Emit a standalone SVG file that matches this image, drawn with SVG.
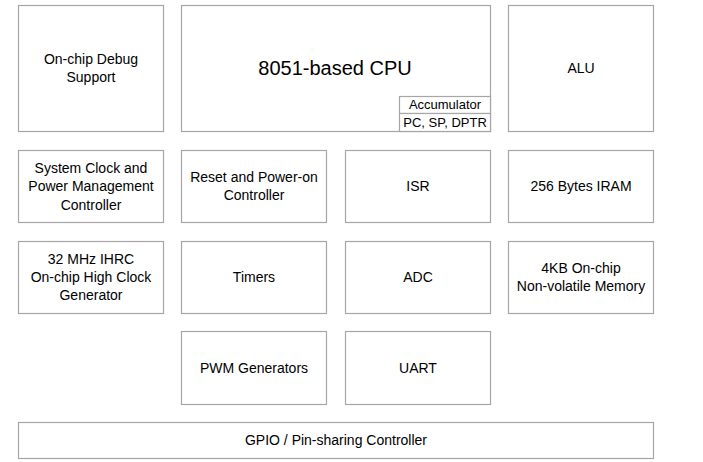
<svg xmlns="http://www.w3.org/2000/svg" width="703" height="462" viewBox="0 0 703 462">
<style>
.b{fill:#fff;stroke:#a6a6a6;stroke-width:1.2}
.t{font-family:"Liberation Sans",Arial,sans-serif;font-size:14px;fill:#000;text-anchor:middle}
.s{font-size:13px}
.big{font-size:20px}
</style>
<rect width="703" height="462" fill="#fff"/>
<g id="debug"><rect class="b" x="18.5" y="5.5" width="145" height="126"/><text class="t" x="91" y="64">On-chip Debug</text><text class="t" x="91" y="82">Support</text></g>
<g id="cpu"><rect class="b" x="181.5" y="5.5" width="309" height="126"/><text class="t big" x="335" y="75">8051-based CPU</text>
<rect class="b" x="399.5" y="96.5" width="91" height="17"/><text class="t s" x="445" y="109">Accumulator</text>
<rect class="b" x="399.5" y="113.5" width="91" height="18"/><text class="t s" x="445" y="127">PC, SP, DPTR</text></g>
<g id="alu"><rect class="b" x="508.5" y="5.5" width="145" height="126"/><text class="t" x="581" y="73">ALU</text></g>
<g id="clock"><rect class="b" x="18.5" y="150.5" width="145" height="72"/><text class="t" x="91" y="173">System Clock and</text><text class="t" x="91" y="191">Power Management</text><text class="t" x="91" y="210">Controller</text></g>
<g id="reset"><rect class="b" x="181.5" y="150.5" width="145" height="72"/><text class="t" x="254" y="182">Reset and Power-on</text><text class="t" x="254" y="200">Controller</text></g>
<g id="isr"><rect class="b" x="345.5" y="150.5" width="145" height="72"/><text class="t" x="418" y="191">ISR</text></g>
<g id="iram"><rect class="b" x="508.5" y="150.5" width="145" height="72"/><text class="t" x="581" y="191">256 Bytes IRAM</text></g>
<g id="ihrc"><rect class="b" x="18.5" y="241.5" width="145" height="72"/><text class="t" x="91" y="264">32 MHz IHRC</text><text class="t" x="91" y="282">On-chip High Clock</text><text class="t" x="91" y="300">Generator</text></g>
<g id="timers"><rect class="b" x="181.5" y="241.5" width="145" height="72"/><text class="t" x="254" y="282">Timers</text></g>
<g id="adc"><rect class="b" x="345.5" y="241.5" width="145" height="72"/><text class="t" x="418" y="282">ADC</text></g>
<g id="nvm"><rect class="b" x="508.5" y="241.5" width="145" height="72"/><text class="t" x="581" y="273">4KB On-chip</text><text class="t" x="581" y="291">Non-volatile Memory</text></g>
<g id="pwm"><rect class="b" x="181.5" y="331.5" width="145" height="73"/><text class="t" x="254" y="373">PWM Generators</text></g>
<g id="uart"><rect class="b" x="345.5" y="331.5" width="145" height="73"/><text class="t" x="418" y="373">UART</text></g>
<g id="gpio"><rect class="b" x="18.5" y="422.5" width="635" height="36"/><text class="t" x="336" y="445">GPIO / Pin-sharing Controller</text></g>
<g id="connectors"></g>
</svg>
